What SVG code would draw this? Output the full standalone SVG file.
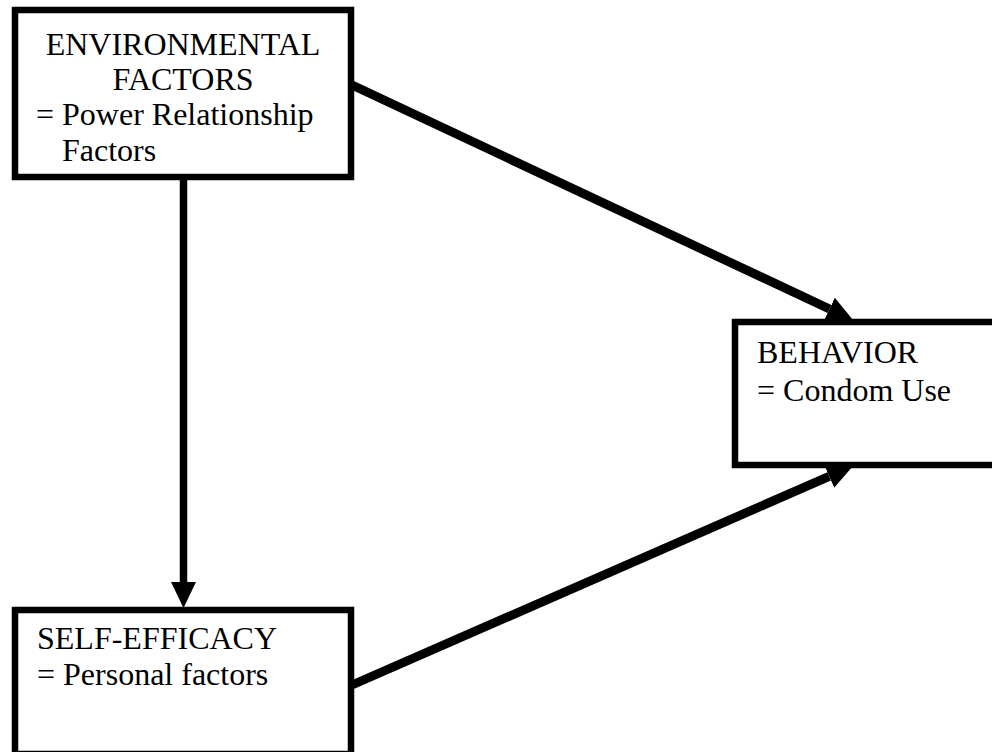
<svg xmlns="http://www.w3.org/2000/svg" width="992" height="752" viewBox="0 0 992 752">
<style>
.box{fill:#fff;stroke:#000;stroke-width:6.5}
.t{font-family:"Liberation Serif","Times New Roman",serif;font-size:32px;fill:#000}
.c{stroke:#000;stroke-width:7.5;fill:none}
.d{stroke-width:9}
</style>
<defs>
<marker id="ah" markerUnits="userSpaceOnUse" viewBox="0 -13 26 26" refX="0" refY="0" markerWidth="26" markerHeight="26" orient="auto">
<path d="M0,-12.5 L26,0 L0,12.5 z" fill="#000"/>
</marker>
</defs>
<rect width="992" height="752" fill="#fff"/>
<g id="connectors">
<line class="c" x1="183.5" y1="180" x2="183.5" y2="582" marker-end="url(#ah)"/>
<line class="c d" x1="352" y1="85" x2="829.5" y2="309" marker-end="url(#ah)"/>
<line class="c d" x1="352" y1="685" x2="829.2" y2="476.4" marker-end="url(#ah)"/>
</g>
<g id="environmental">
<rect class="box" x="15" y="10" width="336" height="167"/>
<text class="t" x="183" y="55" text-anchor="middle">ENVIRONMENTAL</text>
<text class="t" x="183" y="90" text-anchor="middle">FACTORS</text>
<text class="t" x="36" y="125">= Power Relationship</text>
<text class="t" x="62" y="161">Factors</text>
</g>
<g id="behavior">
<rect class="box" x="735" y="322" width="300" height="143"/>
<text class="t" x="757" y="363">BEHAVIOR</text>
<text class="t" x="757" y="401">= Condom Use</text>
</g>
<g id="selfefficacy">
<rect class="box" x="15" y="610" width="336" height="144"/>
<text class="t" x="37" y="649">SELF-EFFICACY</text>
<text class="t" x="37" y="685">= Personal factors</text>
</g>
</svg>
